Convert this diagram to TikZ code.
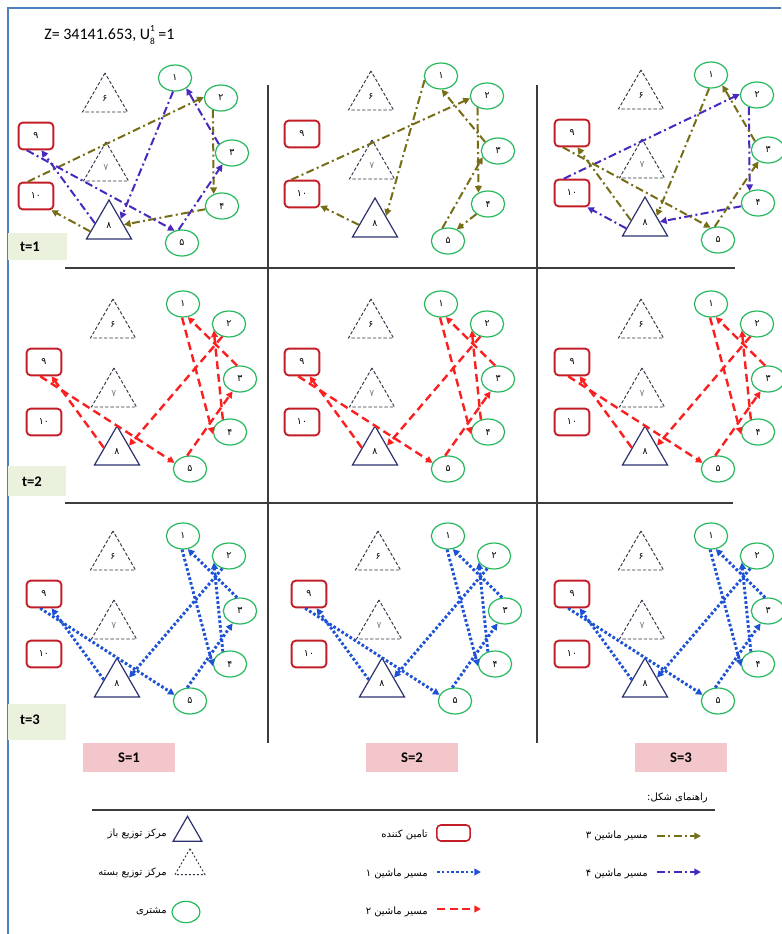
\documentclass[tikz,border=0pt]{standalone}
\usepackage{fontspec}
\setmainfont{Carlito}
\newfontfamily\arabicfont[Script=Arabic]{DejaVu Sans}
\TeXXeTstate=1
\usetikzlibrary{shapes.geometric,arrows.meta}
\definecolor{olivec}{RGB}{118,110,22}
\definecolor{purpc}{RGB}{72,40,190}
\definecolor{redc}{RGB}{250,32,32}
\definecolor{bluec}{RGB}{30,82,212}
\definecolor{custg}{RGB}{40,185,95}
\definecolor{suppr}{RGB}{195,30,40}
\definecolor{navyc}{RGB}{45,50,110}
\definecolor{dashc}{RGB}{50,50,70}
\definecolor{gridc}{RGB}{60,60,60}
\definecolor{tbg}{RGB}{234,241,221}
\definecolor{sbg}{RGB}{242,198,203}
\definecolor{framec}{RGB}{79,129,189}
\newcommand\pdig{\arabicfont\fontsize{7}{8}\selectfont}
\newcommand\ptxt{\arabicfont\fontsize{7.5}{9}\selectfont}
\tikzset{
 cust/.style={ellipse,draw=custg,line width=0.9pt,minimum width=25pt,minimum height=19.5pt,inner sep=0pt,font=\pdig},
 supp/.style={rectangle,rounded corners=3pt,draw=suppr,line width=1.4pt,minimum width=26pt,minimum height=20pt,inner sep=0pt,font=\pdig},
 odc/.style={regular polygon,regular polygon sides=3,draw=navyc,line width=0.9pt,minimum size=39pt,inner sep=0pt,font=\pdig},
 cdc/.style={regular polygon,regular polygon sides=3,draw=dashc,line width=0.7pt,dash pattern=on 2.5pt off 1.5pt,minimum size=39pt,inner sep=0pt,font=\pdig},
 rtip/.style={-{Triangle[length=5pt,width=5pt]}},
 mthree/.style={rtip,draw=olivec,line width=1.5pt,dash pattern=on 6pt off 2.5pt on 1.5pt off 2.5pt},
 mfour/.style={rtip,draw=purpc,line width=1.5pt,dash pattern=on 6pt off 2.5pt on 1.5pt off 2.5pt},
 mtwo/.style={rtip,draw=redc,line width=1.8pt,dash pattern=on 6pt off 3.5pt},
 mone/.style={rtip,draw=bluec,line width=2.2pt,dash pattern=on 2pt off 1.6pt},
 lgtext/.style={anchor=east,inner sep=0pt,font=\ptxt},
 tlab/.style={font=\fontsize{11}{12}\selectfont\bfseries},
 sbox/.style={fill=sbg,minimum width=69pt,minimum height=21.75pt,inner sep=0pt,font=\fontsize{11}{12}\selectfont\bfseries},
 gridl/.style={draw=gridc,line width=0.9pt}
}
\newcommand\mkpanel[3]{%
 \begin{scope}[shift={(#2,#3)}]
 \node[supp] (#1n9) at (0,0) {۹};
 \node[supp] (#1n10) at (0,60) {۱۰};
 \node[cust] (#1n1) at (139,-58) {۱};
 \node[cust] (#1n2) at (185,-38) {۲};
 \node[cust] (#1n3) at (196,17) {۳};
 \node[cust] (#1n4) at (186,70) {۴};
 \node[cust] (#1n5) at (146,107) {۵};
 \node[cdc] (#1n6) at (69,-37) {۶};
 \node[cdc,text=gray] (#1n7) at (70,32) {۷};
 \node[odc] (#1n8) at (73,90) {۸};
 \end{scope}}
\newcommand\routeA[2]{%
 \draw[#2] (#1n8.196) -- (#1n10.-43);
 \draw[#2] (#1n10.120) -- (#1n2.177);
 \draw[#2] (#1n2.236) -- (#1n4.125);
 \draw[#2] (#1n4.191) -- (#1n8.5);}
\newcommand\routeB[2]{%
 \draw[#2] (#1n8.169) -- (#1n9.-69);
 \draw[#2] (#1n9.-123) -- (#1n5.121);
 \draw[#2] (#1n5.104) -- (#1n3.230);
 \draw[#2] (#1n3.146) -- (#1n1.-42);
 \draw[#2] (#1n1.-98) -- (#1n8.31);}
\newcommand\routeC[2]{%
 \draw[#2] (#1n8.183) -- (#1n10.-33);
 \draw[#2] (#1n10.127) -- (#1n2.188);
 \draw[#2] (#1n2.230) -- (#1n4.130);
 \draw[#2] (#1n4.221) -- (#1n5.53);
 \draw[#2] (#1n5.114) -- (#1n3.202);
 \draw[#2] (#1n3.145) -- (#1n1.-87);
 \draw[#2] (#1n1.194) -- (#1n8.36);}
\newcommand\routeD[2]{%
 \draw[#2] (#1n8.162) -- (#1n9.-62);
 \draw[#2] (#1n9.-105) -- (#1n5.158);
 \draw[#2] (#1n5.102) -- (#1n3.239);
 \draw[#2] (#1n3.102) -- (#1n1.-70);
 \draw[#2] (#1n1.-94) -- (#1n4.187);
 \draw[#2] (#1n4.120) -- (#1n2.203);
 \draw[#2] (#1n2.242) -- (#1n8.28);}
\begin{document}
\begin{tikzpicture}[x=0.75pt,y=-0.75pt]
\useasboundingbox (0,0) rectangle (781,934);
\fill[white] (0,0) rectangle (781,934);
\draw[framec,line width=1.5pt] (8,934) -- (8,8) -- (781,8);
\node[anchor=west,inner sep=0pt,font=\fontsize{12}{14}\selectfont] (title) at (44,35) {Z= 34141.653, U\makebox[0pt][l]{\raisebox{1.05ex}{\fontsize{7}{7}\selectfont 1}}\raisebox{-0.75ex}{\fontsize{7}{7}\selectfont 8} =1};
% grid
\draw[gridl] (65,268) -- (735,268);
\draw[gridl] (65,503) -- (733,503);
\draw[gridl] (268,85) -- (268,743);
\draw[gridl] (537,85) -- (537,743);
% t labels
\fill[tbg] (8,233) rectangle (67,260);
\fill[tbg] (8,466) rectangle (66,496);
\fill[tbg] (8,704) rectangle (66,740);
\node[tlab] (t1) at (30,247) {t=1};
\node[tlab] (t2) at (32,482) {t=2};
\node[tlab] (t3) at (30,720) {t=3};
% S labels
\node[sbox] (s1) at (129,757.5) {S=1};
\node[sbox] (s2) at (412,757.5) {S=2};
\node[sbox] (s3) at (681,757.5) {S=3};
% panels
\mkpanel{a}{36}{136}
\mkpanel{b}{302}{134}
\mkpanel{c}{572}{133}
\mkpanel{d}{44}{362}
\mkpanel{e}{302}{362}
\mkpanel{f}{572}{362}
\mkpanel{g}{44}{594}
\mkpanel{h}{309}{594}
\mkpanel{i}{572}{594}
\routeA{a}{mthree}
\routeB{a}{mfour}
\routeC{b}{mthree}
\routeA{c}{mfour}
\routeB{c}{mthree}
\routeD{d}{mtwo}
\routeD{e}{mtwo}
\routeD{f}{mtwo}
\routeD{g}{mone}
\routeD{h}{mone}
\routeD{i}{mone}
% legend
\node[lgtext] (lgt) at (708,798) {\beginR راهنمای شکل\kern0pt:\endR};
\draw[gridl] (92,810) -- (715,810);
\node[odc,minimum size=25pt] (lgo) at (187.5,833) {};
\node[cdc,minimum size=26pt,dash pattern=on 1.5pt off 1.5pt] (lgc) at (190,866) {};
\node[cust,minimum width=21pt,minimum height=16pt] (lgcu) at (186,912) {};
\node[supp,minimum width=25pt,minimum height=12pt,line width=1.2pt] (lgs) at (453.5,833) {};
\node[lgtext] (lt1) at (167,834) {\beginR مرکز توزیع باز\endR};
\node[lgtext] (lt2) at (167,873) {\beginR مرکز توزیع بسته\endR};
\node[lgtext] (lt3) at (167,912) {\beginR مشتری\endR};
\node[lgtext] (lt4) at (428,835) {\beginR تامین کننده\endR};
\node[lgtext] (lt5) at (428,874) {\beginR مسیر ماشین ۱\endR};
\node[lgtext] (lt6) at (428,912) {\beginR مسیر ماشین ۲\endR};
\node[lgtext] (lt7) at (648,836) {\beginR مسیر ماشین ۳\endR};
\node[lgtext] (lt8) at (648,874) {\beginR مسیر ماشین ۴\endR};
\coordinate (l1a) at (437,872); \coordinate (l1b) at (481,872);
\coordinate (l2a) at (437,909); \coordinate (l2b) at (481,909);
\coordinate (l3a) at (657,836); \coordinate (l3b) at (701,836);
\coordinate (l4a) at (657,872); \coordinate (l4b) at (701,872);
\draw[mone] (l1a) -- (l1b);
\draw[mtwo] (l2a) -- (l2b);
\draw[mthree] (l3a) -- (l3b);
\draw[mfour] (l4a) -- (l4b);
\end{tikzpicture}
\end{document}
